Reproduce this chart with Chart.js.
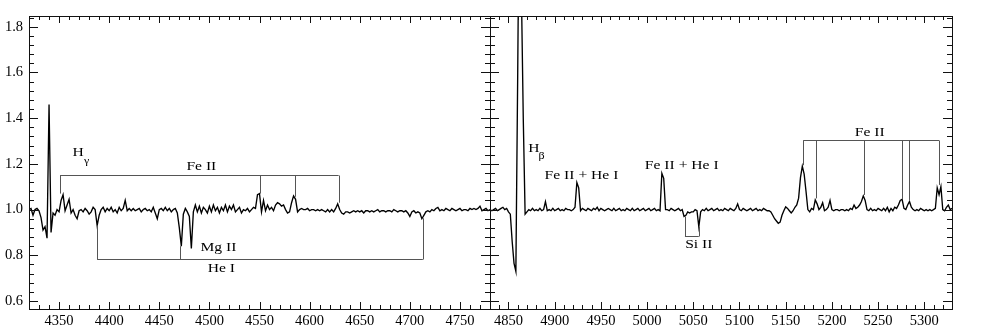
<!DOCTYPE html>
<html>
<head>
<meta charset="utf-8">
<script src="https://cdn.jsdelivr.net/npm/chart.js@4.4.1/dist/chart.umd.min.js"></script>
<style>
  html, body { margin: 0; padding: 0; background: #fff; }
  #wrap { position: relative; width: 981px; height: 327px; }
  #wrap canvas { position: absolute; left: 0; top: 0; }
</style>
</head>
<body>
<div id="wrap">
  <canvas id="leftPanel" width="981" height="327"></canvas>
  <canvas id="rightPanel" width="981" height="327"></canvas>
</div>
<script>
const STEP = 2;

const leftStart = 4320;
const leftFlux = [
  1.000, 1.005, 0.975, 1.000, 1.005, 0.995, 0.965, 0.910, 0.925, 0.875, // 4320
  1.460, 0.900, 0.985, 0.975, 1.000, 0.990, 1.040, 1.065, 0.995, 1.020, // 4340
  1.045, 0.985, 1.000, 0.975, 0.960, 0.995, 1.000, 0.990, 1.005, 0.995, // 4360
  0.980, 0.990, 1.010, 1.000, 0.930, 0.975, 1.000, 1.010, 0.990, 1.005, // 4380
  0.995, 1.010, 0.990, 1.000, 0.985, 1.010, 0.995, 1.005, 1.040, 0.995, // 4400
  1.005, 0.995, 1.005, 0.995, 1.000, 1.005, 0.990, 1.000, 1.005, 0.995, // 4420
  1.000, 0.990, 1.010, 0.985, 0.960, 1.000, 1.005, 0.995, 1.010, 0.995, // 4440
  1.005, 0.990, 1.000, 1.005, 0.985, 0.920, 0.840, 0.980, 1.005, 0.990, // 4460
  0.970, 0.830, 0.990, 1.020, 0.990, 1.015, 0.985, 1.010, 1.000, 0.985, // 4480
  1.015, 0.990, 1.020, 0.995, 1.010, 0.985, 1.010, 0.995, 1.020, 0.990, // 4500
  1.015, 1.000, 1.020, 0.990, 1.000, 1.010, 0.985, 1.000, 0.995, 1.005, // 4520
  0.990, 1.000, 1.010, 1.005, 1.065, 1.070, 0.990, 1.040, 0.995, 1.020, // 4540
  1.000, 1.010, 0.995, 1.020, 1.030, 1.025, 1.015, 1.020, 1.000, 0.985, // 4560
  0.990, 1.030, 1.060, 1.045, 0.990, 1.000, 1.005, 1.000, 1.000, 1.005, // 4580
  0.995, 1.000, 1.000, 0.995, 1.000, 0.995, 1.000, 0.995, 0.990, 1.000, // 4600
  0.990, 1.000, 0.990, 1.005, 1.025, 1.000, 0.985, 0.980, 0.990, 0.990, // 4620
  0.985, 0.990, 0.995, 0.990, 0.995, 0.990, 0.995, 0.985, 0.995, 0.995, // 4640
  0.990, 0.995, 0.990, 0.995, 1.000, 0.990, 0.995, 0.995, 0.990, 0.995, // 4660
  0.995, 0.990, 1.000, 0.995, 0.990, 0.995, 0.995, 0.990, 0.995, 0.985, // 4680
  0.970, 0.990, 0.995, 0.985, 0.990, 0.985, 0.960, 0.975, 0.990, 0.995, // 4700
  0.990, 1.000, 0.995, 1.005, 1.010, 0.995, 1.000, 0.995, 1.005, 1.000, // 4720
  0.995, 1.005, 1.000, 0.995, 1.000, 1.005, 0.995, 1.000, 1.000, 0.995, // 4740
  1.005, 1.000, 1.005, 1.000, 1.005, 1.015, 0.995, 1.000, 1.005, 0.995, // 4760
  1.000                                                                 // 4780
];

const rightStart = 4830;
const rightFlux = [
  1.000, 0.995, 1.000, 1.005, 0.995, 1.000, 1.005, 1.010, 1.000, 1.005, // 4830
  0.990, 0.980, 0.860, 0.765, 0.730, 1.600, 2.600, 1.950, 1.400, 0.980, // 4850
  0.990, 1.000, 0.995, 1.005, 0.995, 1.000, 0.995, 1.005, 0.995, 1.000, // 4870
  1.035, 0.995, 1.000, 0.995, 1.005, 0.995, 1.000, 1.005, 0.995, 1.000, // 4890
  0.995, 1.005, 1.000, 1.000, 0.995, 1.000, 1.010, 1.118, 1.095, 0.995, // 4910
  1.005, 1.000, 0.995, 1.005, 1.000, 0.995, 1.005, 1.000, 1.010, 0.995, // 4930
  1.005, 1.000, 0.995, 1.000, 1.005, 1.000, 0.995, 1.005, 0.995, 1.000, // 4950
  1.005, 0.995, 1.000, 0.995, 1.005, 1.000, 0.995, 1.005, 0.995, 1.000, // 4970
  1.005, 0.995, 1.000, 1.005, 0.995, 1.000, 1.005, 0.995, 1.000, 1.005, // 4990
  0.995, 1.000, 0.995, 1.159, 1.137, 1.000, 1.000, 0.995, 1.005, 1.000, // 5010
  0.995, 1.000, 1.005, 0.995, 1.000, 0.970, 0.975, 0.990, 0.985, 0.990, // 5030
  0.990, 1.000, 0.995, 0.925, 0.990, 1.000, 0.995, 1.005, 0.995, 1.000, // 5050
  1.005, 0.995, 1.000, 1.005, 0.995, 1.000, 0.995, 1.005, 1.000, 0.995, // 5070
  1.005, 1.000, 0.995, 1.005, 1.025, 1.000, 0.995, 1.005, 1.000, 0.995, // 5090
  1.000, 1.005, 0.995, 1.000, 1.005, 0.995, 1.000, 0.995, 1.005, 1.000, // 5110
  0.995, 0.995, 0.990, 0.975, 0.960, 0.950, 0.940, 0.945, 0.975, 0.995, // 5130
  1.012, 1.005, 0.995, 0.985, 0.995, 1.010, 1.020, 1.050, 1.140, 1.190, // 5150
  1.155, 1.080, 1.000, 0.990, 1.005, 1.000, 1.042, 1.025, 1.000, 1.010, // 5170
  1.030, 0.995, 1.000, 1.010, 1.040, 1.000, 0.995, 1.000, 1.000, 0.995, // 5190
  1.000, 1.000, 0.995, 1.000, 0.995, 1.005, 1.000, 1.020, 1.005, 1.010, // 5210
  1.020, 1.035, 1.060, 1.040, 1.000, 0.995, 1.005, 0.995, 1.000, 0.995, // 5230
  1.005, 1.000, 0.995, 1.005, 0.995, 1.010, 0.990, 1.005, 0.995, 1.010, // 5250
  1.005, 1.020, 1.040, 1.045, 1.005, 1.000, 1.020, 1.035, 1.010, 1.000, // 5270
  0.995, 1.000, 0.995, 1.005, 1.000, 0.995, 1.000, 0.995, 1.000, 0.995, // 5290
  1.000, 1.005, 1.095, 1.065, 1.100, 1.000, 0.995, 1.010, 1.020, 1.000, // 5310
  1.005                                                                 // 5330
];

// axis ticks
const yTicks = [0.6, 0.8, 1.0, 1.2, 1.4, 1.6, 1.8];
const leftXTicks = [4350, 4400, 4450, 4500, 4550, 4600, 4650, 4700, 4750];
const rightXTicks = [4850, 4900, 4950, 5000, 5050, 5100, 5150, 5200, 5250, 5300];

// line identifications (wavelength of each marker and flux where it stops)
const feLeftLines = [4351, 4550, 4585, 4629];
const feLeftEnds = [1.07, 1.07, 1.056, 1.03];
const feLeftLevel = 1.151;
const heLeftLines = [4388, 4471, 4713];
const heLeftEnds = [0.93, 0.84, 0.962];
const heLeftLevel = 0.782;
const feRightLines = [5169, 5183, 5235, 5276, 5284, 5316];
const feRightEnds = [1.194, 1.049, 1.064, 1.046, 1.042, 1.108];
const feRightLevel = 1.304;
const siRightLines = [5041, 5056];
const siRightEnds = [0.97, 0.925];
const siRightLevel = 0.884;

const leftLabels = [
  { text: 'H', x: 4369, y: 1.25 },
  { text: 'γ', x: 4377.5, y: 1.212, sub: true },
  { text: 'Fe II', x: 4492, y: 1.186 },
  { text: 'Mg II', x: 4509, y: 0.832 },
  { text: 'He I', x: 4512, y: 0.74 }
];
const rightLabels = [
  { text: 'H', x: 4877.6, y: 1.265 },
  { text: 'β', x: 4885.7, y: 1.232, sub: true },
  { text: 'Fe II + He I', x: 4929, y: 1.147 },
  { text: 'Fe II + He I', x: 5037.5, y: 1.191 },
  { text: 'Si II', x: 5056, y: 0.847 },
  { text: 'Fe II', x: 5241, y: 1.335 }
];

const SERIF = "'Liberation Serif', 'DejaVu Serif', serif";
Chart.defaults.font.family = SERIF;
Chart.defaults.color = '#000';

// ticks pointing into the plot on all four sides, plus the frame
function drawFrame(chart) {
  const { ctx, chartArea: a, scales: { x, y } } = chart;
  ctx.save();
  ctx.strokeStyle = '#111';
  ctx.lineWidth = 1;
  ctx.beginPath();
  for (let v = Math.ceil(x.min / 10) * 10; v <= x.max; v += 10) {
    const px = Math.round(x.getPixelForValue(v)) + 0.5;
    const len = v % 50 === 0 ? 7 : 4;
    ctx.moveTo(px, a.bottom); ctx.lineTo(px, a.bottom - len);
    ctx.moveTo(px, a.top); ctx.lineTo(px, a.top + len);
  }
  for (let i = Math.ceil(y.min / 0.04 - 1e-6); i * 0.04 <= y.max; i++) {
    const py = Math.round(y.getPixelForValue(i * 0.04)) + 0.5;
    const len = i % 5 === 0 ? 9 : 5;
    ctx.moveTo(a.left, py); ctx.lineTo(a.left + len, py);
    ctx.moveTo(a.right, py); ctx.lineTo(a.right - len, py);
  }
  ctx.stroke();
  ctx.strokeRect(Math.round(a.left) + 0.5, Math.round(a.top) + 0.5,
    Math.round(a.right - a.left), Math.round(a.bottom - a.top));
  ctx.restore();
}

function drawBracket(chart, lines, ends, level) {
  const { ctx, scales: { x, y } } = chart;
  const yl = Math.round(y.getPixelForValue(level)) + 0.5;
  ctx.beginPath();
  ctx.moveTo(x.getPixelForValue(lines[0]), yl);
  ctx.lineTo(x.getPixelForValue(lines[lines.length - 1]), yl);
  lines.forEach((w, i) => {
    const px = Math.round(x.getPixelForValue(w)) + 0.5;
    ctx.moveTo(px, yl);
    ctx.lineTo(px, y.getPixelForValue(ends[i]));
  });
  ctx.stroke();
}

function drawLabels(chart, labels) {
  const { ctx, scales: { x, y } } = chart;
  labels.forEach(l => {
    ctx.save();
    ctx.translate(x.getPixelForValue(l.x), y.getPixelForValue(l.y));
    ctx.scale(1.2, 1);
    ctx.font = (l.sub ? 10 : 13) + 'px ' + SERIF;
    ctx.fillStyle = '#000';
    ctx.textAlign = 'center';
    ctx.textBaseline = 'middle';
    ctx.fillText(l.text, 0, 0);
    ctx.restore();
  });
}

const annotate = {
  id: 'annotate',
  afterDatasetsDraw(chart) {
    const ctx = chart.ctx;
    ctx.save();
    ctx.strokeStyle = '#555';
    ctx.lineWidth = 1;
    chart.options.plugins.annotate.brackets.forEach(b => drawBracket(chart, b[0], b[1], b[2]));
    ctx.restore();
    drawLabels(chart, chart.options.plugins.annotate.labels);
    drawFrame(chart);
  }
};

function makeChart(id, start, flux, xTicks, showY, padding, brackets, labels) {
  const points = flux.map((f, i) => ({ x: start + i * STEP, y: f }));
  return new Chart(document.getElementById(id), {
    type: 'line',
    data: {
      datasets: [{
        data: points,
        borderColor: '#000',
        borderWidth: 1.35,
        pointRadius: 0,
        tension: 0,
        fill: false
      }]
    },
    options: {
      responsive: false,
      animation: false,
      layout: { padding: padding },
      plugins: {
        legend: { display: false },
        tooltip: { enabled: false },
        annotate: { brackets: brackets, labels: labels }
      },
      scales: {
        x: {
          type: 'linear',
          min: start,
          max: start + (flux.length - 1) * STEP,
          afterFit: s => { s.height = 18; },
          afterBuildTicks: s => { s.ticks = xTicks.map(v => ({ value: v })); },
          grid: { display: false, drawTicks: false },
          border: { display: false },
          ticks: {
            padding: 3,
            color: '#000',
            maxRotation: 0,
            autoSkip: false,
            font: { family: SERIF, size: 14.5 },
            callback: v => String(v)
          }
        },
        y: {
          type: 'linear',
          display: showY,
          min: 0.565,
          max: 1.847,
          afterFit: s => { s.width = showY ? 29 : 0; },
          afterBuildTicks: s => { s.ticks = yTicks.map(v => ({ value: v })); },
          grid: { display: false, drawTicks: false },
          border: { display: false },
          ticks: {
            padding: 6,
            color: '#000',
            autoSkip: false,
            font: { family: SERIF, size: 14.5 },
            callback: v => v.toFixed(1)
          }
        }
      }
    },
    plugins: [annotate]
  });
}

makeChart('leftPanel', leftStart, leftFlux, leftXTicks, true,
  { top: 16, right: 491, bottom: 0, left: 0 },
  [[feLeftLines, feLeftEnds, feLeftLevel], [heLeftLines, heLeftEnds, heLeftLevel]],
  leftLabels);

makeChart('rightPanel', rightStart, rightFlux, rightXTicks, false,
  { top: 16, right: 29, bottom: 0, left: 490 },
  [[feRightLines, feRightEnds, feRightLevel], [siRightLines, siRightEnds, siRightLevel]],
  rightLabels);
</script>
</body>
</html>
